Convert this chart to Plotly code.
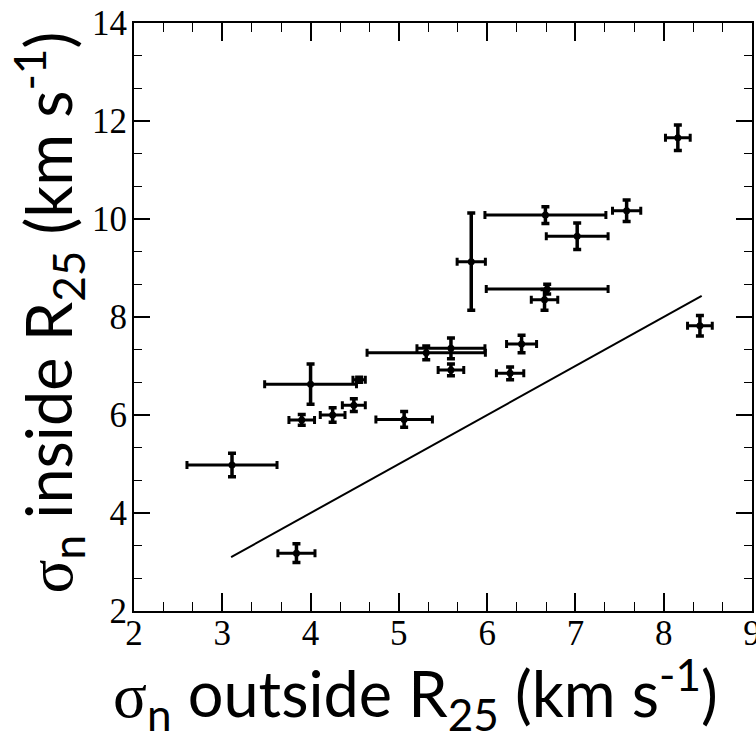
import plotly.graph_objects as go

# velocity dispersion outside / inside R25 (km/s)
sigma_out = [3.11, 3.84, 4.00, 3.90, 4.25, 4.49, 4.55, 5.06, 5.31, 5.59,
             5.59, 5.82, 6.26, 6.39, 6.66, 7.02, 6.68, 6.65, 7.58, 8.16, 8.41]
sigma_out_err = [0.51, 0.21, 0.52, 0.145, 0.14, 0.13, 0.07, 0.32, 0.67, 0.385,
                 0.145, 0.16, 0.155, 0.17, 0.685, 0.35, 0.69, 0.15, 0.16, 0.14, 0.14]
sigma_in = [4.98, 3.18, 6.63, 5.90, 6.00, 6.20, 6.72, 5.91, 7.27, 7.36,
            6.92, 9.13, 6.85, 7.45, 10.08, 9.65, 8.57, 8.35, 10.17, 11.66, 7.82]
sigma_in_err = [0.24, 0.19, 0.41, 0.11, 0.15, 0.13, 0.05, 0.16, 0.14, 0.21,
                0.12, 0.99, 0.13, 0.18, 0.17, 0.27, 0.10, 0.21, 0.22, 0.26, 0.21]

# one-to-one reference line
line_x = [3.1, 8.43]
line_y = [3.1, 8.43]

x_ticks = [2, 3, 4, 5, 6, 7, 8, 9]
y_ticks = [2, 4, 6, 8, 10, 12, 14]

fig = go.Figure()
fig.add_trace(go.Scatter(
    x=line_x, y=line_y, mode="lines",
    line=dict(color="black", width=2), showlegend=False, hoverinfo="skip"))
fig.add_trace(go.Scatter(
    x=sigma_out, y=sigma_in, mode="markers",
    marker=dict(color="black", size=7, symbol="circle"),
    error_x=dict(type="data", array=sigma_out_err, color="black", thickness=3, width=4),
    error_y=dict(type="data", array=sigma_in_err, color="black", thickness=3.5, width=4),
    showlegend=False))

tick_font = dict(family="Liberation Serif", size=35, color="black")
axis_common = dict(
    showgrid=False, zeroline=False, showline=True, linecolor="black", linewidth=2,
    mirror="ticks", ticks="inside", tickcolor="black", tickwidth=1.5,
    tickfont=tick_font, ticklabeloverflow="allow", automargin=False)

fig.update_xaxes(range=[2, 9], tickvals=x_ticks, ticklen=18,
                 minor=dict(dtick=1/3, tick0=2, ticks="inside", ticklen=9,
                            tickcolor="black", tickwidth=1.2),
                 ticklabelstandoff=-10, **axis_common)
fig.update_yaxes(range=[2, 14], tickvals=y_ticks, ticklen=16,
                 minor=dict(dtick=2/3, tick0=2, ticks="inside", ticklen=8,
                            tickcolor="black", tickwidth=1.2),
                 ticklabelstandoff=-2, **axis_common)

title_font = dict(family="Lato", size=63, color="black")
sigma = '<span style="font-family:Liberation Serif">σ</span>'
fig.add_annotation(
    text=sigma + "<sub>n</sub> outside R<sub>25</sub> (km s<sup>-1</sup>)",
    xref="paper", yref="paper", x=0.456, y=-0.141, xanchor="center", yanchor="middle",
    showarrow=False, font=title_font)
fig.add_annotation(
    text=sigma + "<sub>n</sub> inside R<sub>25</sub> (km s<sup>-1</sup>)",
    xref="paper", yref="paper", x=-0.139, y=0.508, xanchor="center", yanchor="middle",
    textangle=-90, showarrow=False, font=title_font)

fig.update_layout(
    width=756, height=743,
    margin=dict(l=134, r=4, t=23, b=132, autoexpand=False),
    paper_bgcolor="white", plot_bgcolor="white")

fig.write_html("out.html")
